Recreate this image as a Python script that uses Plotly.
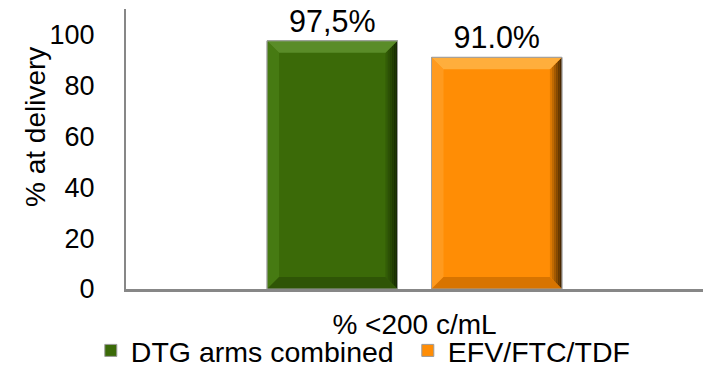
import plotly.graph_objects as go

# Viral suppression at delivery
category = ["% <200 c/mL"]
series_names = ["DTG arms combined", "EFV/FTC/TDF"]
series_values = [97.5, 91.0]
value_labels = ["97,5%", "91.0%"]
y_ticks = [0, 20, 40, 60, 80, 100]

face_colors = ["#3b6a08", "#ff8d05"]
top_colors = ["#5a8c28", "#ffae3c"]
left_colors = ["#467a12", "#ff9a1e"]
bottom_colors = ["#2f5506", "#d87400"]
edge_dark = ["#0f1e02", "#3a2000"]

W, H = 705, 369
M_L, M_R, M_T, M_B = 126, 2, 9, 80
Y_MAX = 110
BARGAP, GROUPGAP = 0.43, 0.207
BEVEL_PX = 12

FONT = "Liberation Sans, Arial, sans-serif"

fig = go.Figure()
for name, val, lab, col in zip(series_names, series_values, value_labels, face_colors):
    fig.add_trace(go.Bar(
        name=name, x=category, y=[val],
        text=[lab], textposition="outside", cliponaxis=False,
        textfont=dict(size=30.5, color="#000000", family=FONT),
        marker=dict(color=col, line=dict(color="#9a9a9a", width=1)),
    ))

# bevel facets drawn over each bar, sized from the bar geometry
plot_w = W - M_L - M_R
plot_h = H - M_T - M_B
dx = BEVEL_PX / plot_w
dy = BEVEL_PX * Y_MAX / plot_h
slot = (1 - BARGAP) / len(series_values)
bar_w = slot * (1 - GROUPGAP)


def hex_rgb(h):
    h = h.lstrip("#")
    return [int(h[i:i + 2], 16) for i in (0, 2, 4)]


def mix(a, b, t):
    ca, cb = hex_rgb(a), hex_rgb(b)
    return "rgb(%d,%d,%d)" % tuple(round(ca[i] + (cb[i] - ca[i]) * t) for i in range(3))


def poly(pts):
    return "M " + " L ".join("%.6f,%.6f" % p for p in pts) + " Z"


shapes = []
for i, v in enumerate(series_values):
    c = -0.5 * (1 - BARGAP) + slot * (i + 0.5)
    x0, x1 = c - bar_w / 2, c + bar_w / 2
    # left facet
    shapes.append(dict(type="path", xref="x", yref="y", layer="above",
                       path=poly([(x0, 0), (x0, v), (x0 + dx, v - dy), (x0 + dx, dy)]),
                       fillcolor=left_colors[i], line=dict(width=0)))
    # right facet, shaded toward the outer edge
    n = 6
    for k in range(n):
        ta, tb = k / n, (k + 1) / n
        xa, xb = x1 - dx + ta * dx, x1 - dx + tb * dx
        shapes.append(dict(type="path", xref="x", yref="y", layer="above",
                           path=poly([(xa, dy * (1 - ta)), (xa, v - dy * (1 - ta)),
                                      (xb, v - dy * (1 - tb)), (xb, dy * (1 - tb))]),
                           fillcolor=mix(face_colors[i], edge_dark[i], (k + 0.5) / n * 0.9 + 0.1),
                           line=dict(width=0)))
    # top facet
    shapes.append(dict(type="path", xref="x", yref="y", layer="above",
                       path=poly([(x0, v), (x1, v), (x1 - dx, v - dy), (x0 + dx, v - dy)]),
                       fillcolor=top_colors[i], line=dict(width=0)))
    # bottom facet
    shapes.append(dict(type="path", xref="x", yref="y", layer="above",
                       path=poly([(x0, 0), (x1, 0), (x1 - dx, dy), (x0 + dx, dy)]),
                       fillcolor=bottom_colors[i], line=dict(width=0)))
    # outline
    shapes.append(dict(type="rect", xref="x", yref="y", layer="above",
                       x0=x0, x1=x1, y0=0, y1=v, line=dict(color="#a0a0a0", width=1)))

fig.update_layout(
    width=W, height=H,
    margin=dict(l=M_L, r=M_R, t=M_T, b=M_B, autoexpand=False),
    paper_bgcolor="white", plot_bgcolor="white",
    barmode="group", bargap=BARGAP, bargroupgap=GROUPGAP,
    font=dict(family=FONT, color="#000000"),
    shapes=shapes,
    showlegend=True,
    legend=dict(orientation="h", x=-0.061, xanchor="left", y=-0.221, yanchor="middle",
                font=dict(size=28.5, family=FONT), entrywidth=272, entrywidthmode="pixels",
                bgcolor="rgba(0,0,0,0)"),
    xaxis=dict(type="category", range=[-0.5, 0.5], showgrid=False,
               showline=True, linecolor="#878787", linewidth=3,
               ticks="outside", ticklen=8, tickcolor="rgba(0,0,0,0)",
               tickfont=dict(size=28, family=FONT)),
    yaxis=dict(range=[0, Y_MAX], tickvals=y_ticks, showgrid=False, zeroline=False,
               showline=True, linecolor="#878787", linewidth=2,
               ticks="outside", ticklen=24, tickcolor="rgba(0,0,0,0)",
               tickfont=dict(size=27, family=FONT)),
    annotations=[dict(text="% at delivery", textangle=-90, xref="paper", yref="paper",
                      x=(36 - M_L) / plot_w, y=(H - M_B - 127) / plot_h,
                      xanchor="center", yanchor="middle", showarrow=False,
                      font=dict(size=28, family=FONT))],
)

fig.write_html("out.html")
